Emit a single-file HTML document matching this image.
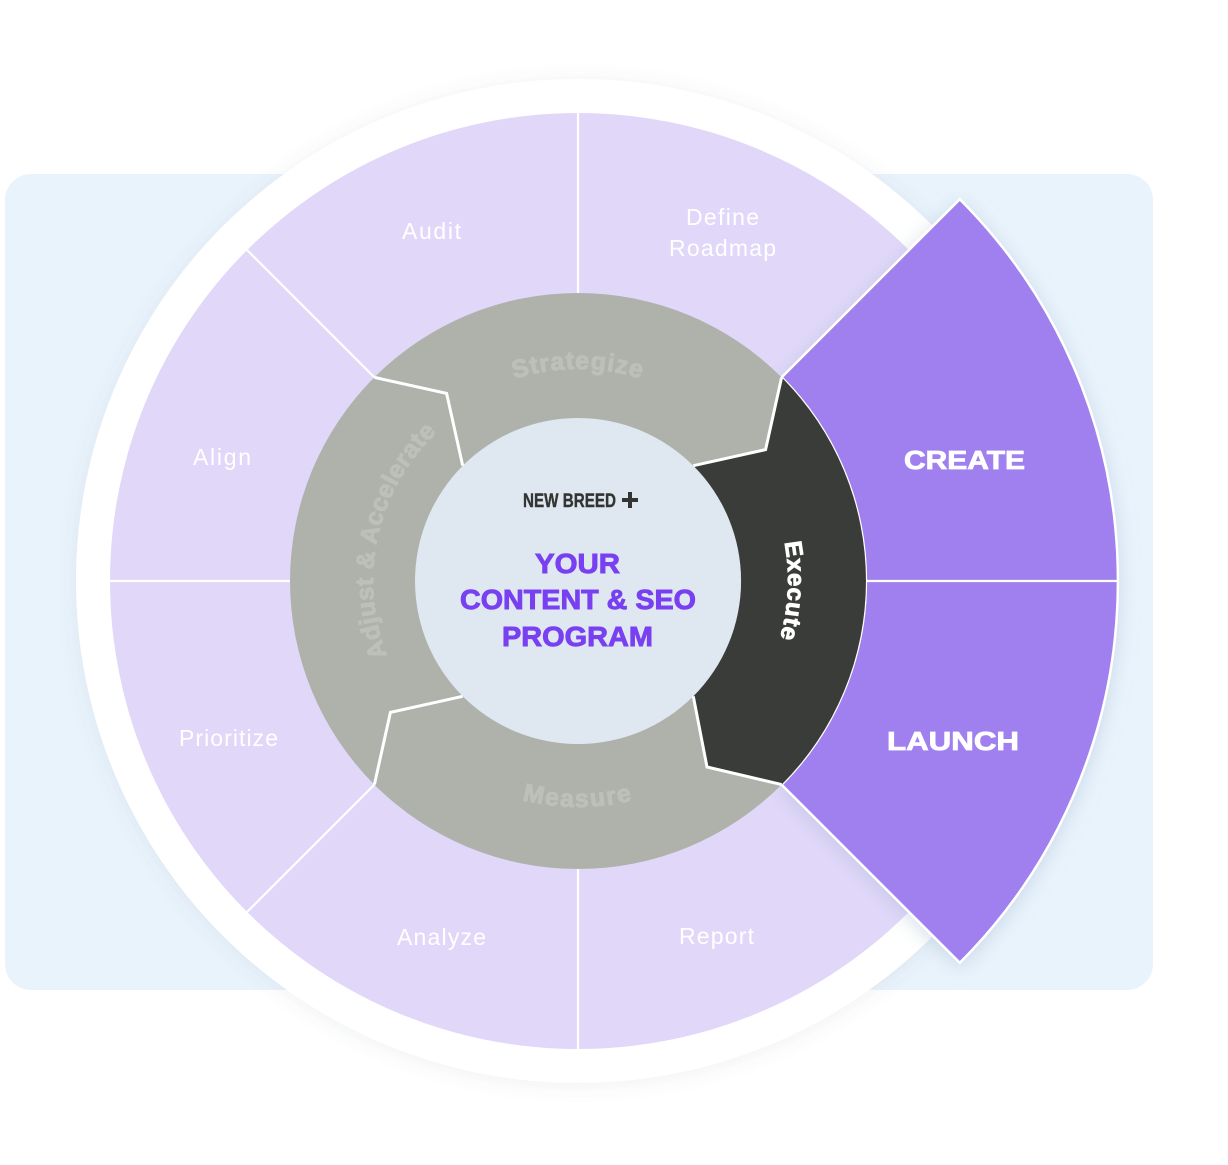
<!DOCTYPE html>
<html>
<head>
<meta charset="utf-8">
<style>
  html,body{margin:0;padding:0;background:#ffffff;}
  body{width:1228px;height:1165px;overflow:hidden;}
  svg{display:block;}
  text{font-family:"Liberation Sans", sans-serif;}
</style>
</head>
<body>
<svg width="1228" height="1165" viewBox="0 0 1228 1165" xmlns="http://www.w3.org/2000/svg">
  <defs>
    <filter id="ringShadow" x="-20%" y="-20%" width="140%" height="140%">
      <feDropShadow dx="0" dy="2" stdDeviation="9" flood-color="#5a6b80" flood-opacity="0.10"/>
    </filter>
    <filter id="wedgeShadow" x="-30%" y="-30%" width="160%" height="160%">
      <feDropShadow dx="0" dy="4" stdDeviation="10" flood-color="#8fa6c2" flood-opacity="0.35"/>
    </filter>
    <path id="pStrat" d="M 366 581 A 212 212 0 0 1 790 581"/>
    <path id="pMeas" d="M 352 581 A 226 226 0 0 0 804 581"/>
    <path id="pExec" d="M 578 371 A 210 210 0 0 1 578 791"/>
    <path id="pAdj" d="M 578 786 A 205 205 0 0 1 578 376"/>
  </defs>

  <!-- background panel -->
  <rect x="5" y="174" width="1148" height="816" rx="26" ry="26" fill="#e9f3fc"/>

  <!-- white ring -->
  <circle cx="578" cy="581" r="502" fill="#ffffff" filter="url(#ringShadow)"/>

  <!-- light purple segments -->
  <circle cx="578" cy="581" r="468" fill="#e1d8f9"/>
  <g stroke="#ffffff" stroke-width="2.2">
    <line x1="578" y1="869" x2="578" y2="1050"/>
    <line x1="374.4" y1="784.6" x2="247.1" y2="911.9"/>
    <line x1="290" y1="581" x2="109" y2="581"/>
    <line x1="374.4" y1="377.4" x2="247.1" y2="250.1"/>
    <line x1="578" y1="293" x2="578" y2="112"/>
    <line x1="781.6" y1="377.4" x2="908.9" y2="250.1"/>
    <line x1="781.6" y1="784.6" x2="908.9" y2="911.9"/>
  </g>

  <!-- highlighted wedge -->
  <path d="M 959.8 199.2 A 540 540 0 0 1 959.8 962.8 L 781.6 784.6 A 288 288 0 0 0 781.6 377.4 Z"
        fill="#a07fee" stroke="#ffffff" stroke-width="2.5" stroke-linejoin="miter" filter="url(#wedgeShadow)"/>
  <line x1="866" y1="581" x2="1118" y2="581" stroke="#ffffff" stroke-width="2.2"/>

  <!-- gray ring -->
  <circle cx="578" cy="581" r="288" fill="#aeb2ab"/>
  <!-- execute piece -->
  <path d="M 781.6 377.4 A 288 288 0 0 1 781.6 784.6 L 707 767 L 693.3 696.3 A 163 163 0 0 0 693.3 465.7 L 765.6 449.6 Z" fill="#3a3c39"/>

  <!-- inner circle -->
  <circle cx="578" cy="581" r="163" fill="#dfe7f0"/>

  <!-- boundaries -->
  <g fill="none" stroke="#ffffff" stroke-width="3" stroke-linejoin="miter">
    <polyline points="781.6,377.4 765.6,449.6 693.3,465.7"/>
    <polyline points="781.6,784.6 707,767 693.3,696.3"/>
    <polyline points="374.4,784.6 390.4,712.4 462.7,696.3"/>
    <polyline points="374.4,377.4 446.6,393.4 462.7,465.7"/>
  </g>

  <!-- ring labels -->
  <text font-size="25" font-weight="bold" fill="#bcc0b9" stroke="#bcc0b9" stroke-width="0.9" letter-spacing="1">
    <textPath href="#pStrat" startOffset="50%" text-anchor="middle">Strategize</textPath>
  </text>
  <text font-size="25" font-weight="bold" fill="#bcc0b9" stroke="#bcc0b9" stroke-width="0.9" letter-spacing="1.6">
    <textPath href="#pMeas" startOffset="50%" text-anchor="middle">Measure</textPath>
  </text>
  <text font-size="25" font-weight="bold" fill="#bcc0b9" stroke="#bcc0b9" stroke-width="0.9" letter-spacing="0.4">
    <textPath href="#pAdj" startOffset="57%" text-anchor="middle">Adjust &amp; Accelerate</textPath>
  </text>
  <text font-size="24" font-weight="bold" fill="#ffffff" stroke="#ffffff" stroke-width="0.9" letter-spacing="0.8">
    <textPath href="#pExec" startOffset="51.5%" text-anchor="middle">Execute</textPath>
  </text>

  <!-- segment labels -->
  <g font-size="23" fill="#ffffff" text-anchor="middle">
    <text x="431.5" y="239" textLength="59">Audit</text>
    <text x="722.5" y="225" textLength="73">Define</text>
    <text x="722.5" y="256" textLength="107">Roadmap</text>
    <text x="222" y="465" textLength="58">Align</text>
    <text x="228.5" y="746" textLength="99">Prioritize</text>
    <text x="441.5" y="945" textLength="89">Analyze</text>
    <text x="716.5" y="944" textLength="75">Report</text>
  </g>
  <g font-size="26" font-weight="bold" fill="#ffffff" stroke="#ffffff" stroke-width="0.8" text-anchor="middle">
    <text x="964.5" y="469" textLength="121" lengthAdjust="spacingAndGlyphs">CREATE</text>
    <text x="953" y="750" textLength="132" lengthAdjust="spacingAndGlyphs">LAUNCH</text>
  </g>

  <!-- center -->
  <text x="523" y="507" font-size="19.5" font-weight="bold" fill="#333533" stroke="#333533" stroke-width="0.4" textLength="93" lengthAdjust="spacingAndGlyphs">NEW BREED</text>
  <rect x="622" y="498" width="16" height="4" fill="#333533"/>
  <rect x="628" y="492" width="4" height="16" fill="#333533"/>

  <g font-size="28" font-weight="bold" fill="#7840f0" stroke="#7840f0" stroke-width="0.9" text-anchor="middle">
    <text x="577.5" y="573" textLength="85" lengthAdjust="spacingAndGlyphs">YOUR</text>
    <text x="578" y="609" textLength="236" lengthAdjust="spacingAndGlyphs">CONTENT &amp; SEO</text>
    <text x="577.5" y="646" textLength="151" lengthAdjust="spacingAndGlyphs">PROGRAM</text>
  </g>
</svg>
</body>
</html>
